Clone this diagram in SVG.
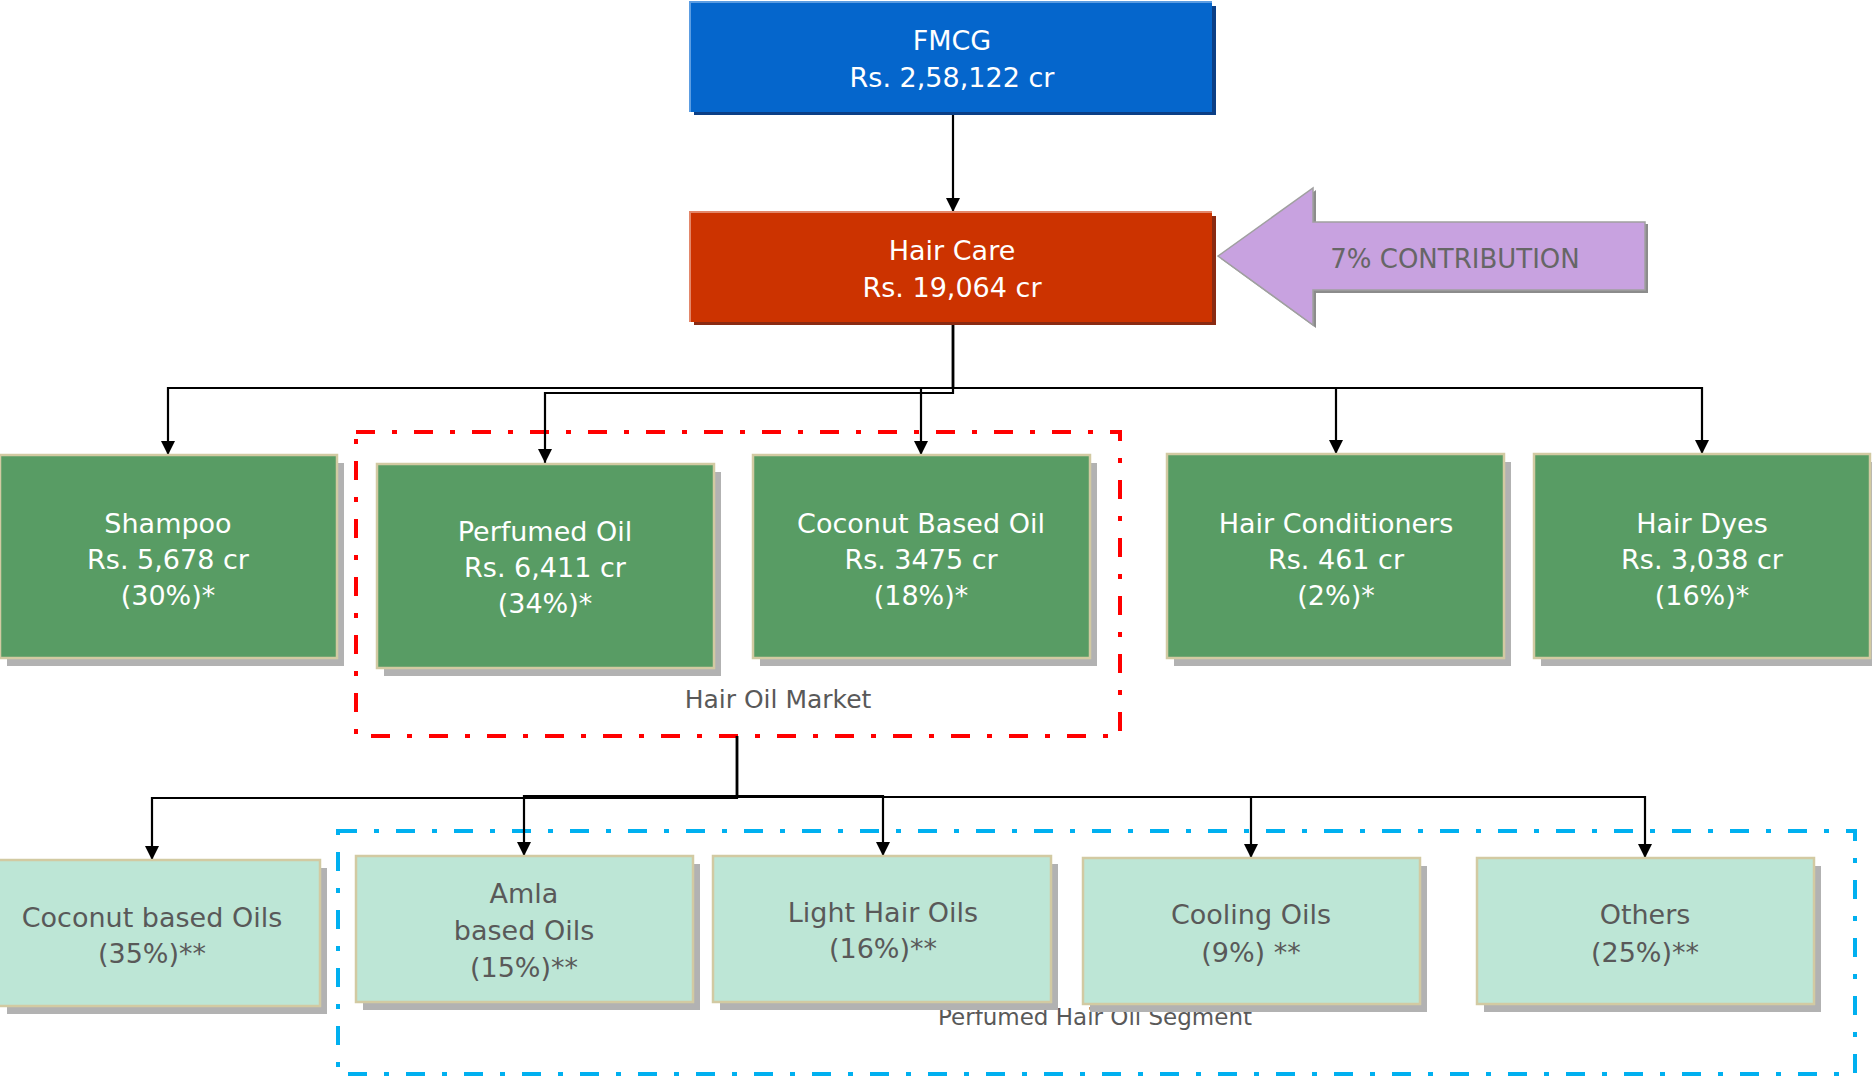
<svg xmlns="http://www.w3.org/2000/svg" width="1872" height="1078" viewBox="0 0 1872 1078">
<defs>
<marker id="ah" viewBox="0 0 14 14" refX="14" refY="7" markerWidth="14" markerHeight="14" markerUnits="userSpaceOnUse" orient="auto">
<path d="M0,0 L14,7 L0,14 Z" fill="#000"/>
</marker>
<style>
text{font-family:"DejaVu Sans","Liberation Sans",sans-serif;text-anchor:middle}
.wt{fill:#fff;font-size:27px}
.gt{fill:#595959;font-size:27px}
.lbl{fill:#595959;font-size:25px}
.sh{fill:#b2b2b2}
.green{fill:#589c64;stroke:#d2caa2;stroke-width:2.5}
.mint{fill:#bde6d6;stroke:#d2caa2;stroke-width:2.5}
.conn{fill:none;stroke:#000;stroke-width:2.2;marker-end:url(#ah)}
.grp{fill:none;stroke-width:4}
</style>
</defs>
<rect width="1872" height="1078" fill="#fff"/>

<!-- group boundaries -->
<g id="hair-oil-market">
<rect class="grp" x="356" y="432" width="764" height="304" stroke="#ff0000" stroke-dasharray="19 17 5 17"/>
<text class="lbl" x="778" y="708">Hair Oil Market</text>
</g>
<g id="perfumed-segment">
<rect class="grp" x="338" y="831" width="1517" height="243" stroke="#00b0f0" stroke-dasharray="19 17 5 17"/>
<text class="lbl" x="1095" y="1025" style="font-size:23px">Perfumed Hair Oil Segment</text>
</g>

<g id="connectors">
<path class="conn" d="M953,113 V212"/>
<path class="conn" d="M953,322 V388 H168 V455"/>
<path class="conn" d="M953,322 V393 H545 V463"/>
<path class="conn" d="M953,322 V388 H921 V455"/>
<path class="conn" d="M953,322 V388 H1336 V454"/>
<path class="conn" d="M953,322 V388 H1702 V454"/>
<path class="conn" d="M737,736 V798 H152 V860"/>
<path class="conn" d="M737,736 V796 H524 V856"/>
<path class="conn" d="M737,736 V796 H883 V856"/>
<path class="conn" d="M737,736 V797 H1251 V858"/>
<path class="conn" d="M737,736 V797 H1645 V858"/>
</g>

<g id="fmcg">
<rect x="694" y="6" width="522" height="109" fill="#0b3f86"/>
<rect x="690" y="2" width="522" height="110" fill="#0566cc"/>
<path d="M690,112 V2 H1212" fill="none" stroke="#5c9de2" stroke-width="2"/>
<text class="wt" x="952" y="50">FMCG</text>
<text class="wt" x="952" y="87">Rs. 2,58,122 cr</text>
</g>

<g id="hair-care">
<rect x="694" y="216" width="522" height="109" fill="#8a2a12"/>
<rect x="690" y="212" width="522" height="110" fill="#cc3300"/>
<path d="M690,322 V212 H1212" fill="none" stroke="#e3876a" stroke-width="2"/>
<text class="wt" x="952" y="260">Hair Care</text>
<text class="wt" x="952" y="297">Rs. 19,064 cr</text>
</g>

<g id="contribution">
<polygon points="1221,259 1316,190 1316,224 1648,224 1648,293 1316,293 1316,328" fill="#8c8c8c"/>
<polygon points="1218,256 1313,188 1313,222 1645,222 1645,290 1313,290 1313,325" fill="#c8a2e0" stroke="#a0a0a0" stroke-width="1.5"/>
<text x="1455" y="268" style="font-size:26px;fill:#666666">7% CONTRIBUTION</text>
</g>

<g id="shampoo">
<rect class="sh" x="7" y="463" width="337" height="203"/>
<rect class="green" x="0" y="455" width="337" height="203"/>
<text class="wt" x="168" y="533">Shampoo</text>
<text class="wt" x="168" y="569">Rs. 5,678 cr</text>
<text class="wt" x="168" y="605">(30%)*</text>
</g>

<g id="perfumed-oil">
<rect class="sh" x="384" y="472" width="337" height="204"/>
<rect class="green" x="377" y="464" width="337" height="204"/>
<text class="wt" x="545" y="541">Perfumed Oil</text>
<text class="wt" x="545" y="577">Rs. 6,411 cr</text>
<text class="wt" x="545" y="613">(34%)*</text>
</g>

<g id="coconut-based-oil">
<rect class="sh" x="760" y="463" width="337" height="203"/>
<rect class="green" x="753" y="455" width="337" height="203"/>
<text class="wt" x="921" y="533">Coconut Based Oil</text>
<text class="wt" x="921" y="569">Rs. 3475 cr</text>
<text class="wt" x="921" y="605">(18%)*</text>
</g>

<g id="hair-conditioners">
<rect class="sh" x="1174" y="462" width="337" height="204"/>
<rect class="green" x="1167" y="454" width="337" height="204"/>
<text class="wt" x="1336" y="533">Hair Conditioners</text>
<text class="wt" x="1336" y="569">Rs. 461 cr</text>
<text class="wt" x="1336" y="605">(2%)*</text>
</g>

<g id="hair-dyes">
<rect class="sh" x="1541" y="462" width="337" height="204"/>
<rect class="green" x="1534" y="454" width="336" height="204"/>
<text class="wt" x="1702" y="533">Hair Dyes</text>
<text class="wt" x="1702" y="569">Rs. 3,038 cr</text>
<text class="wt" x="1702" y="605">(16%)*</text>
</g>

<g id="coconut-based-oils">
<rect class="sh" x="7" y="868" width="320" height="146"/>
<rect class="mint" x="-2" y="860" width="322" height="146"/>
<text class="gt" x="152" y="927">Coconut based Oils</text>
<text class="gt" x="152" y="963">(35%)**</text>
</g>

<g id="amla-based-oils">
<rect class="sh" x="363" y="864" width="337" height="146"/>
<rect class="mint" x="356" y="856" width="337" height="146"/>
<text class="gt" x="524" y="903">Amla</text>
<text class="gt" x="524" y="940">based Oils</text>
<text class="gt" x="524" y="977">(15%)**</text>
</g>

<g id="light-hair-oils">
<rect class="sh" x="720" y="864" width="338" height="146"/>
<rect class="mint" x="713" y="856" width="338" height="146"/>
<text class="gt" x="883" y="922">Light Hair Oils</text>
<text class="gt" x="883" y="958">(16%)**</text>
</g>

<g id="cooling-oils">
<rect class="sh" x="1090" y="866" width="337" height="146"/>
<rect class="mint" x="1083" y="858" width="337" height="146"/>
<text class="gt" x="1251" y="924">Cooling Oils</text>
<text class="gt" x="1251" y="962">(9%) **</text>
</g>

<g id="others">
<rect class="sh" x="1484" y="866" width="337" height="146"/>
<rect class="mint" x="1477" y="858" width="337" height="146"/>
<text class="gt" x="1645" y="924">Others</text>
<text class="gt" x="1645" y="962">(25%)**</text>
</g>
</svg>
